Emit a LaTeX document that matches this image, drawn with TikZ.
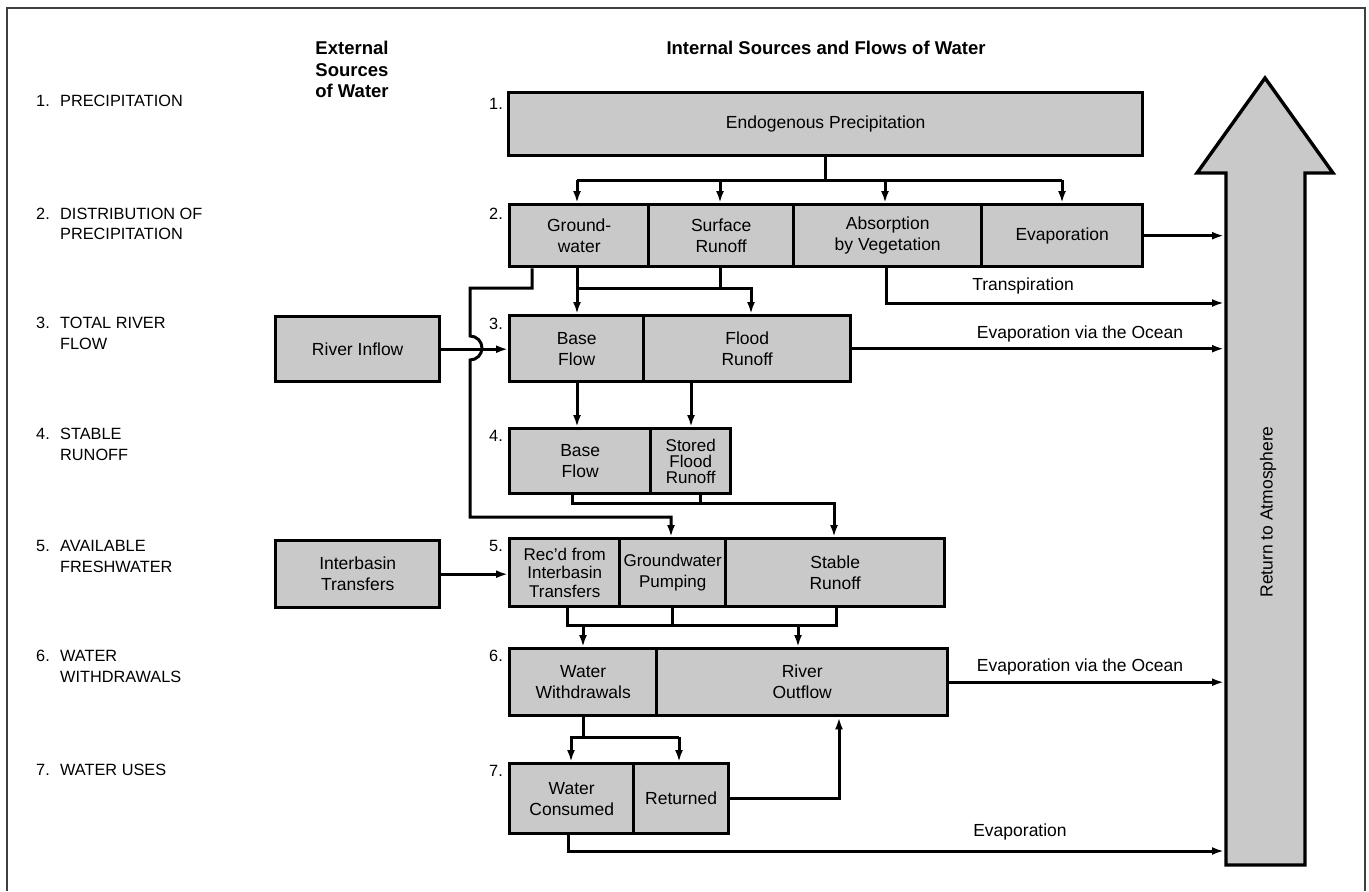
\documentclass[tikz,border=0pt]{standalone}
\usepackage{fontspec}
\setmainfont{Liberation Sans}
\usetikzlibrary{arrows.meta}
\definecolor{boxgray}{gray}{0.79}
\newcommand\bxf{\fontsize{17.5}{21}\selectfont}
\newcommand\lbf{\fontsize{16.3}{20}\selectfont}
\newcommand\hdf{\fontsize{18.5}{21.5}\selectfont\bfseries}
\tikzset{
  cell/.style={draw, line width=3.4pt, fill=boxgray, inner sep=0pt, anchor=north west, align=center, font=\bxf},
  conn/.style={line width=3pt},
  arr/.style={conn, -{Latex[length=12pt,width=8pt]}},
  rowlab/.style={anchor=base west, inner sep=0pt, font=\lbf},
  rownum/.style={anchor=base east, inner sep=0pt, font=\lbf},
  flowlab/.style={anchor=base, inner sep=0pt, font=\bxf},
  hdr/.style={inner sep=0pt, align=center, font=\hdf},
  bigarrow/.style={draw, line width=3.4pt, fill=boxgray, line join=miter},
  frame/.style={line width=1.6pt, black!75}
}
\begin{document}
\begin{tikzpicture}[x=1pt,y=-1pt]
\useasboundingbox (0,0) rectangle (1369,892);
\draw[frame] (7,891) -- (7,8) -- (1365,8) -- (1365,891);

% headers
\node[hdr, anchor=north] (hext) at (352,41) {External\\Sources\\of Water};
\node[hdr, anchor=base] (hint) at (826,54) {Internal Sources and Flows of Water};

% row labels
\node[rownum] (n1) at (50,106) {1.};
\node[rowlab] (l1) at (60,106) {PRECIPITATION};
\node[rownum] (n2) at (50,219) {2.};
\node[rowlab] (l2a) at (60,219) {DISTRIBUTION OF};
\node[rowlab] (l2b) at (60,239) {PRECIPITATION};
\node[rownum] (n3) at (50,328) {3.};
\node[rowlab] (l3a) at (60,328) {TOTAL RIVER};
\node[rowlab] (l3b) at (60,349) {FLOW};
\node[rownum] (n4) at (50,439) {4.};
\node[rowlab] (l4a) at (60,439) {STABLE};
\node[rowlab] (l4b) at (60,460) {RUNOFF};
\node[rownum] (n5) at (50,551) {5.};
\node[rowlab] (l5a) at (60,551) {AVAILABLE};
\node[rowlab] (l5b) at (60,572) {FRESHWATER};
\node[rownum] (n6) at (50,661) {6.};
\node[rowlab] (l6a) at (60,661) {WATER};
\node[rowlab] (l6b) at (60,682) {WITHDRAWALS};
\node[rownum] (n7) at (50,775) {7.};
\node[rowlab] (l7) at (60,775) {WATER USES};

% row numbers next to boxes
\node[rownum] (b1) at (503,109) {1.};
\node[rownum] (b2) at (503,219) {2.};
\node[rownum] (b3) at (503,329) {3.};
\node[rownum] (b4) at (503,441) {4.};
\node[rownum] (b5) at (503,551) {5.};
\node[rownum] (b6) at (503,661) {6.};
\node[rownum] (b7) at (503,776) {7.};

% row 1
\node[cell, minimum width=634pt, minimum height=63pt] (endo) at (507,91) {Endogenous Precipitation};
% row 2
\node[cell, minimum width=139pt, minimum height=62pt] (gw) at (508,203) {Ground-\\water};
\node[cell, minimum width=145pt, minimum height=62pt] (sr) at (647,203) {Surface\\Runoff};
\node[cell, minimum width=188pt, minimum height=62pt] (abs) at (792,203) {Absorption\\by Vegetation};
\node[cell, minimum width=161pt, minimum height=62pt] (evap) at (980,203) {Evaporation};
% row 3
\node[cell, minimum width=134pt, minimum height=66pt] (bf3) at (508,314) {Base\\Flow};
\node[cell, minimum width=207pt, minimum height=66pt] (fr3) at (642,314) {Flood\\Runoff};
\node[cell, minimum width=164pt, minimum height=65pt] (rin) at (274,315) {River Inflow};
% row 4
\node[cell, minimum width=141pt, minimum height=65pt] (bf4) at (508,427) {Base\\Flow};
\node[cell, minimum width=80pt, minimum height=65pt, font=\fontsize{17}{16}\selectfont] (sfr) at (649,427) {Stored\\Flood\\Runoff};
% row 5
\node[cell, minimum width=110pt, minimum height=68pt, font=\fontsize{17}{18.5}\selectfont] (rec) at (508,537) {Rec’d from\\Interbasin\\Transfers};
\node[cell, minimum width=106pt, minimum height=68pt, font=\fontsize{17}{21}\selectfont] (gwp) at (618,537) {Groundwater\\Pumping};
\node[cell, minimum width=219pt, minimum height=68pt] (stab) at (724,537) {Stable\\Runoff};
\node[cell, minimum width=164pt, minimum height=67pt] (ibt) at (274,539) {Interbasin\\Transfers};
% row 6
\node[cell, minimum width=147pt, minimum height=67pt] (ww) at (508,647) {Water\\Withdrawals};
\node[cell, minimum width=291pt, minimum height=67pt] (ro) at (655,647) {River\\Outflow};
% row 7
\node[cell, minimum width=124pt, minimum height=70pt] (wc) at (508,762) {Water\\Consumed};
\node[cell, minimum width=95pt, minimum height=70pt] (ret) at (632,762) {Returned};

% return arrow
\draw[bigarrow] (1226,865) -- (1226,173) -- (1197,173) -- (1265,78) -- (1333,173) -- (1305,173) -- (1305,865) -- cycle;
\node[font=\bxf, rotate=90, inner sep=0pt] (atm) at (1268,512) {Return to Atmosphere};
\coordinate (shaftL) at (1224,500);

% distribution of precipitation
\coordinate (d1) at (825,180);
\coordinate (dL) at (577,180);
\coordinate (dS) at (720,180);
\coordinate (dA) at (885,180);
\coordinate (dR) at (1062,180);
\draw[conn] (endo.south -| d1) -- (d1);
\draw[conn] (dL) -- (dR);
\draw[arr] (dL) -- (dL |- gw.north);
\draw[arr] (dS) -- (dS |- sr.north);
\draw[arr] (dA) -- (dA |- abs.north);
\draw[arr] (dR) -- (dR |- evap.north);

% groundwater bypass with hop
\coordinate (g1) at (532,288);
\coordinate (g2) at (470,288);
\coordinate (hop) at (470,336);
\coordinate (g3) at (470,517);
\coordinate (g4) at (671,517);
\draw[arr, line join=miter] (g1 |- gw.south) -- (g1) -- (g2) -- (hop) arc(-90:90:12) -- (g3) -- (g4) -- (g4 |- gwp.north);

% groundwater / surface runoff to row 3
\coordinate (f1) at (751,288);
\draw[arr] (dL |- gw.south) -- (dL |- bf3.north);
\draw[conn] (dS |- sr.south) -- (dS |- f1);
\draw[arr] (dL |- f1) -- (f1) -- (f1 |- fr3.north);

% transpiration and evaporation
\coordinate (t1) at (886,303);
\draw[arr] (t1 |- abs.south) -- (t1) -- (t1 -| shaftL);
\node[flowlab] (tlab) at (1023,290) {Transpiration};
\draw[arr] (evap.east) -- (evap.east -| shaftL);

% row 3 connections
\draw[arr] (rin.east) -- (rin.east -| bf3.west);
\draw[arr] (fr3.east) -- (fr3.east -| shaftL);
\node[flowlab] (eo1) at (1080,338) {Evaporation via the Ocean};
\coordinate (c691) at (691,400);
\draw[arr] (dL |- bf3.south) -- (dL |- bf4.north);
\draw[arr] (c691 |- fr3.south) -- (c691 |- sfr.north);

% row 4 to row 5
\coordinate (s1) at (572,503);
\coordinate (s2) at (700,503);
\coordinate (s3) at (834,503);
\draw[arr] (s1 |- bf4.south) -- (s1) -- (s3) -- (s3 |- stab.north);
\draw[conn] (s2 |- sfr.south) -- (s2);

% interbasin
\draw[arr] (ibt.east) -- (ibt.east -| rec.west);

% row 5 to row 6
\coordinate (w1) at (567,625);
\coordinate (w2) at (672,625);
\coordinate (w3) at (836,625);
\coordinate (w4) at (583,625);
\coordinate (w5) at (798,625);
\draw[conn] (w1 |- rec.south) -- (w1) -- (w3) -- (w3 |- stab.south);
\draw[conn] (w2 |- gwp.south) -- (w2);
\draw[arr] (w4) -- (w4 |- ww.north);
\draw[arr] (w5) -- (w5 |- ro.north);

% river outflow evaporation
\draw[arr] (ro.east) -- (ro.east -| shaftL);
\node[flowlab] (eo2) at (1080,671) {Evaporation via the Ocean};

% row 6 to row 7
\coordinate (u1) at (583,737);
\coordinate (u2) at (571,737);
\coordinate (u3) at (679,737);
\draw[conn] (w4 |- ww.south) -- (u1);
\draw[arr] (u3) -- (u2) -- (u2 |- wc.north);
\draw[arr] (u3) -- (u3 |- ret.north);

% returned
\coordinate (r1) at (839,797);
\draw[arr] (ret.east) -- (ret.east -| r1) -- (r1 |- ro.south);

% consumed evaporation
\coordinate (e1) at (568,851);
\draw[arr] (e1 |- wc.south) -- (e1) -- (e1 -| shaftL);
\node[flowlab] (elab) at (1020,836) {Evaporation};
\end{tikzpicture}
\end{document}
